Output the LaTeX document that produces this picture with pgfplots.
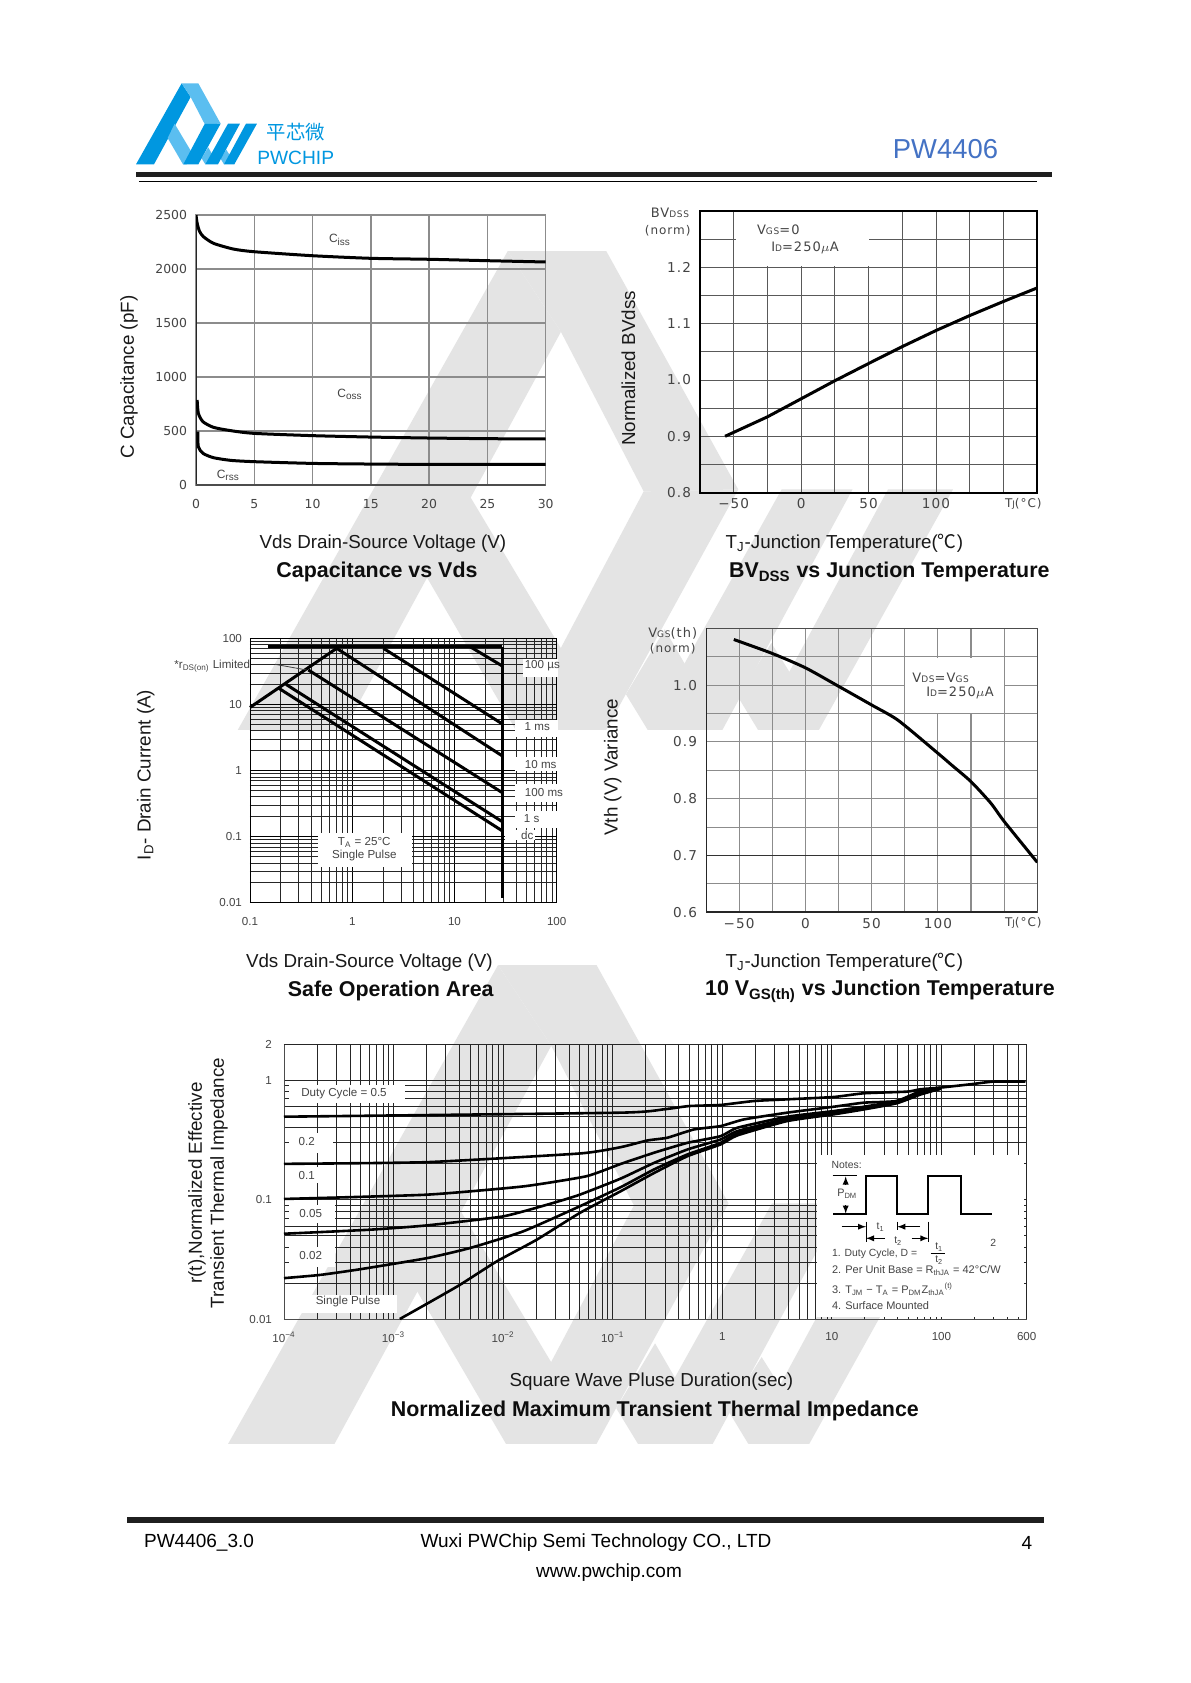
\documentclass[border=0pt]{standalone}
\usepackage{fontspec}
\usepackage{pgfplots}
\pgfplotsset{compat=1.18}
\setmainfont{Liberation Sans}
\newfontfamily\cjk{Noto Sans CJK SC}
\newfontfamily\wide[LetterSpace=8]{DejaVu Sans}
\newfontfamily\plainwide{DejaVu Sans}
\definecolor{wm}{HTML}{E4E4E4}
\definecolor{bluedark}{HTML}{0097E0}
\definecolor{bluelight}{HTML}{5BBEF0}
\definecolor{pwblue}{HTML}{4472C4}
\definecolor{ticktext}{HTML}{444444}
\definecolor{gridgray}{HTML}{8C8C8C}

% white patches and text inside an axis, given in page pixels; \AX and \AB are the axis's left and bottom
\newcommand\wbox[4]{\fill[white] ([xshift=(#1-\AX)*0.5pt,yshift=(\AB-#2)*0.5pt]rel axis cs:0,0) rectangle ([xshift=(#3-\AX)*0.5pt,yshift=(\AB-#4)*0.5pt]rel axis cs:0,0);}
\newcommand\lab[4][]{\node[inner sep=0pt,text=ticktext,#1] at ([xshift=(#2-\AX)*0.5pt,yshift=(\AB-#3)*0.5pt]rel axis cs:0,0) {#4};}

\newcommand\pwlogo[2]{
  \fill[#1] (18,268) -- (155,25) -- (182,66) -- (72,268) -- cycle;
  \fill[#2] (155,25) -- (205,25) -- (272,146) -- (224,147) -- (182,66) -- cycle;
  \fill[#2] (134,146.5) -- (190,240) -- (170,268) -- (159,268) -- (113,189) -- cycle;
  \fill[#2] (234.7,217) -- (248,240) -- (226,268) -- (215,250) -- cycle;
  \fill[#2] (288.8,224) -- (302,245) -- (282,268) -- (271.7,251) -- cycle;
  \fill[#1] (272,146) -- (224,147) -- (160,268) -- (205,268) -- cycle;
  \fill[#1] (294,146) -- (330,146) -- (264,268) -- (226,268) -- cycle;
  \fill[#1] (348,146) -- (381,146) -- (313,268) -- (282,268) -- cycle;
}

\pgfplotsset{
  every axis title shift=0pt,
  page axis/.style={
    scale only axis, anchor=north west,
    major tick length=0pt, minor tick length=0pt,
    /pgf/number format/assume math mode=true,
    clip mode=individual,
    label style={font=\fontsize{9.4}{11}\selectfont, text=black!90},
    xlabel style={yshift=-1pt},
    title style={font=\fontsize{10.7}{12}\selectfont\bfseries, text=black!95, yshift=-1.5pt},
    tick label style={text=ticktext},
  },
  curve/.style={black, line width=1.5pt, no markers},
  small ticks/.style={tick label style={font=\fontsize{5.8}{7}\selectfont}},
  caps ticks/.style={tick label style={font=\plainwide\fontsize{6.2}{7}\selectfont}},
  wide ticks/.style={tick label style={font=\wide\fontsize{6.8}{8}\selectfont}},
}

\begin{document}
\begin{tikzpicture}
\begin{scope}[x=0.5pt,y=-0.5pt]
  \useasboundingbox (0,0) rectangle (1190,1683);
  \fill[white] (0,0) rectangle (1190,1683);
  \begin{scope}[shift={(202.4,201.8)},scale=1.97]\pwlogo{wm}{wm}\end{scope}
  \begin{scope}[shift={(192.7,915.8)},scale=1.97]\pwlogo{wm}{wm}\end{scope}
  \begin{scope}[shift={(130,75)},scale=0.3333]\pwlogo{bluedark}{bluelight}\end{scope}
  \node[text=bluedark] at (295.7,132.3) {\cjk\fontsize{9.7}{11}\selectfont 平芯微};
  \node[text=bluedark] at (295.7,157.7) {\fontsize{9.6}{11}\selectfont PWCHIP};
  \node[text=pwblue] at (945.5,149) {\fontsize{13.7}{15}\selectfont PW4406};
  \fill[black!88] (135.8,171.7) rectangle (1051.5,177.3);
  \draw[black,line width=0.4pt] (138.8,181.7) -- (1037,181.7);
  \fill[black!88] (127,1517.3) rectangle (1044,1523.3);
  \node[anchor=west,inner sep=0pt] at (143.7,1543) {\fontsize{9.5}{11}\selectfont PW4406\_3.0};
  \node at (596,1543) {\fontsize{9.5}{11}\selectfont Wuxi PWChip Semi Technology CO., LTD};
  \node at (609,1572.7) {\fontsize{9.5}{11}\selectfont www.pwchip.com};
  \node at (1027,1543) {\fontsize{9.5}{11}\selectfont 4};
  \coordinate (A1) at (196,215);
  \coordinate (A2) at (700,210.7);
  \coordinate (A3) at (250,638.3);
  \coordinate (A4) at (706,628.3);
  \coordinate (A5) at (284,1044.3);
\end{scope}

% Capacitance
\def\AX{196}\def\AB{485}
\begin{axis}[page axis, caps ticks, at={(A1)}, width=174.85pt, height=135pt,
  xmin=0, xmax=30, ymin=0, ymax=2500,
  xtick={0,5,10,15,20,25,30}, ytick={0,500,1000,1500,2000,2500},
  grid=major, grid style={gridgray,line width=0.7pt},
  axis line style={gridgray,line width=0.7pt},
  xticklabel style={yshift=-3.5pt}, yticklabel style={xshift=-1pt},
  scaled y ticks=false, y tick label style={/pgf/number format/fixed,/pgf/number format/1000 sep={}},
  xlabel={Vds Drain-Source Voltage (V)}, xlabel style={at={(axis description cs:0.5347,-0.21)},anchor=center},
  ylabel={C Capacitance (pF)}, ylabel style={at={(axis description cs:-0.1916,0.4)},anchor=center},
  title={Capacitance vs Vds}, title style={at={(axis description cs:0.5176,-0.3111)},anchor=center},
]
\addplot[black!85,line width=0.9pt,no markers] coordinates {(0,0) (0,2500)};
\addplot[black!70,line width=0.7pt,no markers] coordinates {(0,0) (30,0)};
\addplot[curve,smooth,tension=0.4] coordinates {(0,2500) (0.1,2423) (0.3,2350) (0.63,2300) (1.5,2238) (3.2,2185) (5,2160) (10,2123) (15,2099) (20,2090) (25,2077) (30,2065)};
\addplot[curve,smooth,tension=0.4] coordinates {(0.1,787) (0.2,664) (0.6,586) (1.5,534) (3,503) (5,478) (10,457) (15,444) (20,435) (25,429) (30,426)};
\addplot[curve,smooth,tension=0.4] coordinates {(0.15,494) (0.2,355) (0.6,293) (1.5,253) (3,228) (5,216) (10,200) (15,194) (20,191) (30,191)};
\lab{340}{240}{\fontsize{6}{7}\selectfont C\textsubscript{iss}}
\lab{350}{394}{\fontsize{6}{7}\selectfont C\textsubscript{oss}}
\lab{228.3}{475}{\fontsize{6}{7}\selectfont C\textsubscript{rss}}
\end{axis}

% BVdss
\def\AX{700}\def\AB{492.7}
\begin{axis}[page axis, wide ticks, at={(A2)}, width=168.5pt, height=141pt,
  xmin=-75, xmax=175, ymin=0.8, ymax=1.3,
  xtick={-50,0,50,100}, xticklabels={−50,0,50,100}, ytick={0.8,0.9,1.0,1.1,1.2},
  minor xtick={-25,25,75,125,150}, minor ytick={0.85,0.95,1.05,1.15,1.25},
  grid=both, grid style={black!65,line width=0.4pt},
  axis line style={black,line width=1.2pt},
  xticklabel style={yshift=0.5pt}, yticklabel style={xshift=-1pt},
  y tick label style={/pgf/number format/fixed,/pgf/number format/fixed zerofill,/pgf/number format/precision=1},
  xlabel={T\textsubscript{J}-Junction Temperature({\cjk ℃})}, xlabel style={at={(axis description cs:0.4282,-0.1738)},anchor=center},
  ylabel={Normalized BVdss}, ylabel style={at={(axis description cs:-0.2128,0.4411)},anchor=center},
  title={BV\textsubscript{DSS} vs Junction Temperature}, title style={at={(axis description cs:0.5617,-0.2716)},anchor=center},
]
\wbox{735.5}{212}{868.5}{266.2}
\addplot[curve] coordinates {(-56.4,0.9) (-25,0.9345) (0,0.9665) (25,0.9985) (50,1.029) (75,1.059) (100,1.0875) (125,1.114) (150,1.139) (175,1.163)};
\lab{670}{213.3}{\wide\fontsize{6.5}{8}\selectfont BV{\fontsize{4.5}{5}\selectfont DSS}}
\lab{667.7}{230.7}{\wide\fontsize{6}{8}\selectfont (norm)}
\lab{778.3}{230}{\wide\fontsize{6.5}{8}\selectfont V{\fontsize{4.5}{5}\selectfont GS}=0}
\lab{805}{247.7}{\wide\fontsize{6.5}{8}\selectfont I{\fontsize{4.5}{5}\selectfont D}=250$\mu$A}
\lab{1023.3}{504}{\wide\fontsize{6}{8}\selectfont T{\fontsize{4.5}{5}\selectfont J}(°C)}
\end{axis}

% Safe operation area
\def\AX{250}\def\AB{902.7}
\begin{axis}[page axis, small ticks, at={(A3)}, width=153.35pt, height=132.2pt,
  xmode=log, ymode=log, log basis x=10, log basis y=10,
  xmin=0.1, xmax=100, ymin=0.01, ymax=100,
  xtick={0.1,1,10,100}, xticklabels={0.1,1,10,100},
  ytick={0.01,0.1,1,10,100}, yticklabels={0.01,0.1,1,10,100},
  minor xtick={0.2,0.3,0.4,0.5,0.6,0.7,0.8,0.9,2,3,4,5,6,7,8,9,20,30,40,50,60,70,80,90},
  minor ytick={0.02,0.03,0.04,0.05,0.06,0.07,0.08,0.09,0.2,0.3,0.4,0.5,0.6,0.7,0.8,0.9,2,3,4,5,6,7,8,9,20,30,40,50,60,70,80,90},
  grid=both, major grid style={black,line width=0.45pt}, minor grid style={black!85,line width=0.35pt},
  axis line style={black,line width=0.4pt},
  xticklabel style={yshift=-4pt}, yticklabel style={xshift=-0.5pt},
  xlabel={Vds Drain-Source Voltage (V)}, xlabel style={at={(axis description cs:0.389,-0.2194)},anchor=center},
  ylabel={I\textsubscript{D}- Drain Current (A)}, ylabel style={at={(axis description cs:-0.3401,0.483)},anchor=center},
  title={Safe Operation Area}, title style={at={(axis description cs:0.4588,-0.3238)},anchor=center},
  clip=false,
]
\wbox{523.3}{659.3}{558}{677.3}
\wbox{515}{720}{558}{736.7}
\wbox{515}{756.7}{558}{770.7}
\wbox{515}{784}{565}{802}
\wbox{515}{810.7}{558}{828.3}
\wbox{505}{830}{535}{840}
\wbox{318.3}{833.3}{411.7}{866.7}
\addplot[curve] coordinates {(0.151,74.8) (29.4,74.8)};
\addplot[curve] coordinates {(29.4,74.8) (29.4,0.0116)};
\addplot[curve] coordinates {(0.1,9.0) (0.705,70.6)};
\addplot[curve] coordinates {(14.2,74.8) (29.4,38.1)};
\addplot[curve] coordinates {(2.02,70.6) (29.4,5.06)};
\addplot[curve] coordinates {(0.705,70.6) (29.4,1.66)};
\addplot[curve] coordinates {(0.372,33.2) (29.4,0.462)};
\addplot[curve] coordinates {(0.225,20.1) (29.4,0.168)};
\addplot[curve] coordinates {(0.192,17.5) (29.4,0.122)};
\lab{542.3}{665.7}{\fontsize{5.8}{7}\selectfont 100 µs}
\lab{537.3}{726.7}{\fontsize{5.8}{7}\selectfont 1 ms}
\lab{540.7}{764}{\fontsize{5.8}{7}\selectfont 10 ms}
\lab{544}{792}{\fontsize{5.8}{7}\selectfont 100 ms}
\lab{531.7}{819}{\fontsize{5.8}{7}\selectfont 1 s}
\lab{527.3}{835.3}{\fontsize{5.8}{7}\selectfont dc}
\lab{364.3}{842.7}{\fontsize{5.8}{7}\selectfont T\textsubscript{A} = 25°C}
\lab{364.3}{855.7}{\fontsize{5.8}{7}\selectfont Single Pulse}
\lab{212.3}{666}{\fontsize{5.8}{7}\selectfont *r\textsubscript{DS(on)} Limited}
\end{axis}

% Vgs(th)
\def\AX{706}\def\AB{912.3}
\begin{axis}[page axis, wide ticks, at={(A4)}, width=165.65pt, height=142pt,
  xmin=-75, xmax=175, ymin=0.6, ymax=1.1,
  xtick={-50,0,50,100}, xticklabels={−50,0,50,100}, ytick={0.6,0.7,0.8,0.9,1.0},
  minor xtick={-25,25,75,125,150}, minor ytick={0.65,0.75,0.85,0.95,1.05},
  grid=both, grid style={gridgray,line width=0.55pt},
  axis line style={black!70,line width=0.5pt},
  xticklabel style={yshift=0.5pt}, yticklabel style={xshift=-1pt},
  y tick label style={/pgf/number format/fixed,/pgf/number format/fixed zerofill,/pgf/number format/precision=1},
  xlabel={T\textsubscript{J}-Junction Temperature({\cjk ℃})}, xlabel style={at={(axis description cs:0.4175,-0.1704)},anchor=center},
  ylabel={Vth (V) Variance}, ylabel style={at={(axis description cs:-0.2816,0.5106)},anchor=center},
  title={10 V\textsubscript{GS(th)} vs Junction Temperature}, title style={at={(axis description cs:0.5252,-0.2676)},anchor=center},
]
\wbox{905}{657.5}{1003.5}{712.5}
\addplot[black!80,line width=0.4pt,no markers] coordinates {(-75,0.7) (175,0.7)};
\addplot[black!85,line width=0.9pt,no markers] coordinates {(-75,0.6) (175,0.6)};
\addplot[black!85,line width=0.7pt,no markers] coordinates {(-75,0.6) (-75,1.1)};
\addplot[curve,smooth,tension=0.4] coordinates {(-54,1.0803) (-25,1.0557) (0,1.0305) (25,0.998) (50,0.965) (70,0.938) (100,0.88) (110,0.86) (125,0.83) (140,0.792) (150,0.76) (175,0.688)};
\lab{672.7}{633.3}{\wide\fontsize{6.5}{8}\selectfont V{\fontsize{4.5}{5}\selectfont GS}(th)}
\lab{672.7}{649}{\wide\fontsize{6}{8}\selectfont (norm)}
\lab{940.7}{677.7}{\wide\fontsize{6.5}{8}\selectfont V{\fontsize{4.5}{5}\selectfont DS}=V{\fontsize{4.5}{5}\selectfont GS}}
\lab{960}{693.3}{\wide\fontsize{6.5}{8}\selectfont I{\fontsize{4.5}{5}\selectfont D}=250$\mu$A}
\lab{1023.3}{922.7}{\wide\fontsize{6}{8}\selectfont T{\fontsize{4.5}{5}\selectfont J}(°C)}
\end{axis}

% Transient thermal impedance
\def\AX{284}\def\AB{1319}
\begin{axis}[page axis, small ticks, at={(A5)}, width=371.35pt, height=137.35pt,
  xmode=log, ymode=log, log basis x=10, log basis y=10,
  xmin=1e-4, xmax=600, ymin=0.01, ymax=2,
  xtick={1e-4,1e-3,1e-2,1e-1,1,10,100},
  xticklabels={10\textsuperscript{−4},10\textsuperscript{−3},10\textsuperscript{−2},10\textsuperscript{−1},1,10,100},
  extra x ticks={600}, extra x tick labels={600},
  ytick={0.01,0.1,1}, yticklabels={0.01,0.1,1},
  extra y ticks={2}, extra y tick labels={2},
  minor xtick={2e-4,3e-4,4e-4,5e-4,6e-4,7e-4,8e-4,9e-4,2e-3,3e-3,4e-3,5e-3,6e-3,7e-3,8e-3,9e-3,0.02,0.03,0.04,0.05,0.06,0.07,0.08,0.09,0.2,0.3,0.4,0.5,0.6,0.7,0.8,0.9,2,3,4,5,6,7,8,9,20,30,40,50,60,70,80,90,200,300,400,500},
  minor ytick={0.02,0.03,0.04,0.05,0.06,0.07,0.08,0.09,0.2,0.3,0.4,0.5,0.6,0.7,0.8,0.9},
  grid=both, major grid style={black!85,line width=0.4pt}, minor grid style={black!85,line width=0.35pt},
  axis line style={black!70,line width=0.4pt},
  xticklabel style={yshift=-3pt}, yticklabel style={xshift=-2.5pt},
  xlabel={Square Wave Pluse Duration(sec)}, xlabel style={at={(axis description cs:0.4947,-0.2221)},anchor=center},
  ylabel={r(t),Normalized Effective\\Transient Thermal Impedance}, ylabel style={at={(axis description cs:-0.1023,0.4951)},anchor=center,align=center},
  title={Normalized Maximum Transient Thermal Impedance}, title style={at={(axis description cs:0.4993,-0.3251)},anchor=center},
]
\wbox{289.3}{1085}{405}{1103.3}
\wbox{289.3}{1132.7}{332.7}{1152.7}
\wbox{289.3}{1166.7}{318}{1183.3}
\wbox{289.3}{1205}{335}{1223.3}
\wbox{289.3}{1246.7}{335}{1266.7}
\wbox{286.7}{1295}{396.7}{1313.3}
\wbox{816.7}{1155}{1023.5}{1316.7}
\addplot[curve,line width=1.3pt,smooth,tension=0.3] coordinates {(1e-4,0.495) (0.116,0.535) (0.294,0.571) (0.497,0.608) (0.965,0.621) (1.94,0.67) (3.9,0.692) (10.4,0.724) (19.6,0.778) (48.7,0.803) (64,0.84) (98,0.868) (184,0.925) (300,0.975) (585,0.975)};
\addplot[curve,line width=1.3pt,smooth,tension=0.3] coordinates {(1e-4,0.1994) (0.002,0.206) (0.05,0.2436) (0.118,0.275) (0.207,0.313) (0.315,0.33) (0.55,0.387) (0.965,0.413) (1.58,0.47) (3.9,0.535) (10.4,0.6) (19.6,0.649) (39,0.67) (64,0.81) (98,0.868)};
\addplot[curve,line width=1.3pt,smooth,tension=0.3] coordinates {(1e-4,0.1013) (0.002,0.11) (0.0152,0.129) (0.0575,0.157) (0.118,0.199) (0.238,0.247) (0.48,0.299) (0.965,0.34) (1.37,0.4) (3.9,0.495) (10.4,0.552) (19.6,0.6) (39,0.67) (64,0.785) (98,0.85)};
\addplot[curve,line width=1.3pt,smooth,tension=0.3] coordinates {(1e-4,0.0518) (0.00061,0.056) (0.002,0.0608) (0.01,0.0724) (0.0286,0.0938) (0.05,0.11) (0.118,0.15) (0.238,0.203) (0.48,0.263) (0.965,0.319) (1.37,0.375) (3.9,0.476) (10.4,0.535) (19.6,0.589) (39,0.658) (64,0.778) (98,0.85)};
\addplot[curve,line width=1.3pt,smooth,tension=0.3] coordinates {(1e-4,0.022) (0.000213,0.0234) (0.000493,0.0261) (0.002,0.0323) (0.00497,0.0393) (0.0152,0.0542) (0.05,0.0879) (0.118,0.127) (0.238,0.179) (0.48,0.239) (0.965,0.299) (1.37,0.359) (3.9,0.464) (10.4,0.528) (19.6,0.578) (39,0.649) (64,0.767) (98,0.85)};
\addplot[curve,line width=1.3pt,smooth,tension=0.3] coordinates {(0.00114,0.01) (0.002,0.01337) (0.00402,0.0193) (0.00869,0.0303) (0.0202,0.0461) (0.05,0.0773) (0.118,0.1175) (0.238,0.167) (0.48,0.231) (0.965,0.29) (1.37,0.345) (3.9,0.455) (10.4,0.518) (19.6,0.57) (39,0.641) (64,0.758) (98,0.85)};
\lab{344}{1093.3}{\fontsize{5.8}{7}\selectfont Duty Cycle = 0.5}
\lab{306.7}{1141}{\fontsize{5.8}{7}\selectfont 0.2}
\lab{306.7}{1175.7}{\fontsize{5.8}{7}\selectfont 0.1}
\lab{310.7}{1213.3}{\fontsize{5.8}{7}\selectfont 0.05}
\lab{310.7}{1255}{\fontsize{5.8}{7}\selectfont 0.02}
\lab{348}{1301.7}{\fontsize{5.8}{7}\selectfont Single Pulse}
% notes box
\lab{846.7}{1165}{\fontsize{5.2}{6}\selectfont Notes:}
\lab{847.3}{1194}{\fontsize{5.4}{6}\selectfont P\textsubscript{DM}}
\lab{880.7}{1226.7}{\fontsize{5.2}{6}\selectfont t\textsubscript{1}}
\lab{898.3}{1240.7}{\fontsize{5.2}{6}\selectfont t\textsubscript{2}}
\lab{993.3}{1243.3}{\fontsize{5.2}{6}\selectfont 2}
\lab[anchor=west]{831.7}{1254}{\fontsize{5.2}{6}\selectfont 1. Duty Cycle, D =}
\lab{939.3}{1246.7}{\fontsize{5.2}{6}\selectfont t\textsubscript{1}}
\lab{939.3}{1260}{\fontsize{5.2}{6}\selectfont t\textsubscript{2}}
\lab[anchor=west]{831.7}{1270.7}{\fontsize{5.5}{6}\selectfont 2. Per Unit Base = R\textsubscript{thJA} = 42°C/W}
\lab[anchor=west]{831.7}{1289.3}{\fontsize{5.5}{6}\selectfont 3. T\textsubscript{JM} − T\textsubscript{A} = P\textsubscript{DM}Z\textsubscript{thJA}\textsuperscript{(t)}}
\lab[anchor=west]{831.7}{1306}{\fontsize{5.5}{6}\selectfont 4. Surface Mounted}
\end{axis}

% leader of the rds label, pulse sketch in the notes box
\begin{scope}[x=0.5pt,y=-0.5pt]
  \draw[black!75,line width=0.4pt] (275,664.3) -- (306.7,670);
  \draw[black,line width=0.9pt] (833.3,1214) -- (866,1214) -- (866,1175.7) -- (897.3,1175.7) -- (897.3,1214) -- (928.3,1214) -- (928.3,1175.7) -- (960.7,1175.7) -- (960.7,1214) -- (991.7,1214);
  \draw[black,line width=0.7pt] (832.7,1175.7) -- (857.3,1175.7);
  \draw[black,line width=0.4pt,-latex] (845.7,1185) -- (845.7,1176.5);
  \draw[black,line width=0.4pt,-latex] (845.7,1205) -- (845.7,1213.5);
  \draw[black,line width=0.5pt] (866,1221.7) -- (866,1241.7) (897.3,1221.7) -- (897.3,1230) (928.3,1221.7) -- (928.3,1241.7);
  \draw[black,line width=0.4pt,-latex] (841.7,1226.7) -- (866,1226.7);
  \draw[black,line width=0.4pt,-latex] (920,1226.7) -- (897.3,1226.7);
  \draw[black,line width=0.4pt,-latex] (885,1238.3) -- (866,1238.3);
  \draw[black,line width=0.4pt,-latex] (911.7,1238.3) -- (928.3,1238.3);
  \draw[black,line width=0.4pt] (930.7,1253.3) -- (945,1253.3);
\end{scope}
\end{tikzpicture}
\end{document}
